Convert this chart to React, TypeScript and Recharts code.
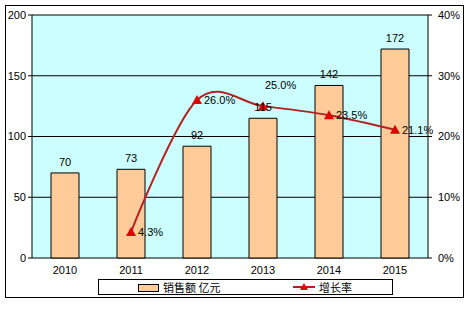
import React from "react";
import {
  ComposedChart,
  Bar,
  Line,
  XAxis,
  YAxis,
  CartesianGrid,
  LabelList,
} from "recharts";

const years = ["2010", "2011", "2012", "2013", "2014", "2015"];
const sales = [70, 73, 92, 115, 142, 172];
const growth: (number | null)[] = [null, 4.3, 26.0, 25.0, 23.5, 21.1];
const leftTicks = [0, 50, 100, 150, 200];
const rightTicks = [0, 10, 20, 30, 40];
const boundaryTicks = [0, 1, 2, 3, 4, 5, 6];

const data = years.map((y, i) => ({ year: y, sales: sales[i], growth: growth[i] }));

const FONT = "'Liberation Sans', Arial, sans-serif";
const CJK = "'Noto Sans CJK SC', 'Liberation Sans', sans-serif";
const LINE_COLOR = "#B22222";
const MARK_COLOR = "#E00000";

// Catmull-Rom style smoothing, close to the spreadsheet "smoothed line" look
function smoothCurve(context: any) {
  const k = 1 / 6;
  let x0 = NaN, x1 = NaN, x2 = NaN, y0 = NaN, y1 = NaN, y2 = NaN;
  let pt = 0;
  let line = NaN;
  const seg = (x: number, y: number) => {
    context.bezierCurveTo(
      x1 + k * (x2 - x0),
      y1 + k * (y2 - y0),
      x2 + k * (x1 - x),
      y2 + k * (y1 - y),
      x2,
      y2
    );
  };
  return {
    areaStart() { line = 0; },
    areaEnd() { line = NaN; },
    lineStart() {
      x0 = x1 = x2 = y0 = y1 = y2 = NaN;
      pt = 0;
    },
    lineEnd() {
      if (pt === 2) context.lineTo(x2, y2);
      else if (pt === 3) seg(x1, y1);
      if (line || (line !== 0 && pt === 1)) context.closePath();
      line = 1 - line;
    },
    point(x: number, y: number) {
      x = +x; y = +y;
      if (pt === 0) {
        pt = 1;
        line ? context.lineTo(x, y) : context.moveTo(x, y);
      } else if (pt === 1) {
        pt = 2;
        x1 = x; y1 = y;
      } else {
        pt = 3;
        seg(x, y);
      }
      x0 = x1; x1 = x2; x2 = x;
      y0 = y1; y1 = y2; y2 = y;
    },
  };
}

function Triangle(props: { cx?: number; cy?: number; value?: number | null }) {
  const { cx, cy, value } = props;
  if (cx == null || cy == null || value == null) return null;
  const s = 5;
  return (
    <path
      d={`M${cx},${cy - s} L${cx + s},${cy + s - 1} L${cx - s},${cy + s - 1} Z`}
      fill={MARK_COLOR}
    />
  );
}

// 25.0% sits above its point, the others to the right
function GrowthLabel(props: any) {
  const { x, y, value, index } = props;
  if (value == null) return null;
  const above = index === 3;
  return (
    <text
      x={above ? x + 2 : x + 7}
      y={above ? y - 17 : y + 4}
      fontSize={11}
      fontFamily={FONT}
      fill="#000"
    >
      {`${Number(value).toFixed(1)}%`}
    </text>
  );
}

function SalesLabel(props: any) {
  const { x, y, width, value } = props;
  return (
    <text x={x + width / 2} y={y - 7} textAnchor="middle" fontSize={11} fontFamily={FONT} fill="#000">
      {value}
    </text>
  );
}

export default function App() {
  return (
    <div style={{ position: "absolute", left: 0, top: 0, width: 473, height: 317, background: "#fff" }}>
      <div
        style={{
          position: "absolute",
          left: 5,
          top: 5,
          width: 457,
          height: 291,
          border: "1px solid #000",
        }}
      />
      <ComposedChart
        width={473}
        height={317}
        data={data}
        margin={{ top: 15, right: 5, bottom: 39, left: 5 }}
        barCategoryGap={19}
        style={{ position: "absolute", left: 0, top: 0 }}
      >
        <CartesianGrid
          vertical={false}
          stroke="#000"
          strokeOpacity={1}
          fill="#CCFFFF"
          fillOpacity={1}
          yAxisId="left"
        />
        <XAxis
          xAxisId="ticks"
          type="number"
          domain={[0, 6]}
          ticks={boundaryTicks}
          tick={false}
          tickSize={4}
          stroke="#000"
          axisLine={{ stroke: "#000" }}
          height={0}
          allowDataOverflow
        />
        <XAxis
          xAxisId="cat"
          dataKey="year"
          axisLine={false}
          tickLine={false}
          tickSize={0}
          tickMargin={8}
          height={20}
          tick={{ fontSize: 11, fontFamily: FONT, fill: "#000" }}
        />
        <YAxis
          yAxisId="left"
          domain={[0, 200]}
          ticks={leftTicks}
          width={27}
          tickSize={4}
          tickMargin={2}
          stroke="#000"
          tick={{ fontSize: 11, fontFamily: FONT, fill: "#000" }}
        />
        <YAxis
          yAxisId="right"
          orientation="right"
          domain={[0, 40]}
          ticks={rightTicks}
          width={40}
          tickSize={4}
          tickMargin={6}
          stroke="#000"
          tickFormatter={(v: number) => `${v}%`}
          tick={{ fontSize: 11, fontFamily: FONT, fill: "#000", textAnchor: "start" }}
        />
        <Bar
          xAxisId="cat"
          yAxisId="left"
          dataKey="sales"
          fill="#FFCC99"
          stroke="#000"
          strokeWidth={1}
          isAnimationActive={false}
        >
          <LabelList dataKey="sales" content={<SalesLabel />} />
        </Bar>
        <Line
          xAxisId="cat"
          yAxisId="right"
          dataKey="growth"
          type={smoothCurve as any}
          stroke={LINE_COLOR}
          strokeWidth={2}
          dot={<Triangle />}
          activeDot={false}
          isAnimationActive={false}
        >
          <LabelList dataKey="growth" content={<GrowthLabel />} />
        </Line>
      </ComposedChart>
      <div
        style={{
          position: "absolute",
          left: 98,
          top: 279,
          width: 293,
          height: 14,
          border: "1px solid #000",
          background: "#fff",
          fontFamily: CJK,
          fontSize: 11,
          lineHeight: "14px",
        }}
      >
        <span
          style={{
            position: "absolute",
            left: 39,
            top: 4,
            width: 19,
            height: 6,
            background: "#FFCC99",
            border: "1px solid #000",
          }}
        />
        <span style={{ position: "absolute", left: 64, top: 0 }}>销售额 亿元</span>
        <svg style={{ position: "absolute", left: 194, top: 0 }} width={24} height={14}>
          <line x1={0} y1={7} x2={22} y2={7} stroke={LINE_COLOR} strokeWidth={2} />
          <path d="M11,3 L15,10 L7,10 Z" fill={MARK_COLOR} />
        </svg>
        <span style={{ position: "absolute", left: 220, top: 0 }}>增长率</span>
      </div>
    </div>
  );
}
